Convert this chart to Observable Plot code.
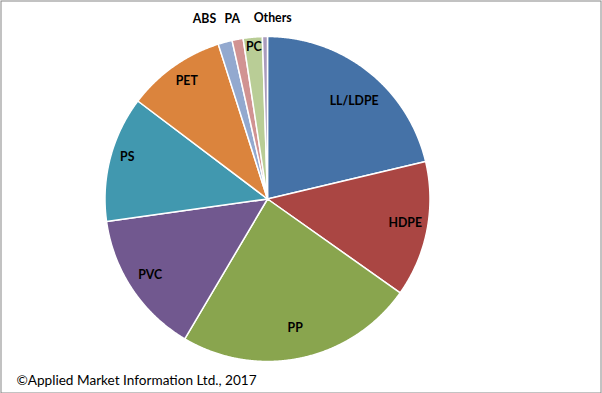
<!DOCTYPE html>
<html><head><meta charset="utf-8">
<script src="https://cdn.jsdelivr.net/npm/d3@7"></script>
<script src="https://cdn.jsdelivr.net/npm/@observablehq/plot@0.6"></script>
<style>html,body{margin:0;padding:0;background:#fff;}</style>
</head><body><div id="chart"></div>
<script>
const categories = ["LL/LDPE","HDPE","PP","PVC","PS","PET","ABS","PA","PC","Others"];
const shares = [21.3,13.5,23.7,14.3,12.5,9.8,1.4,1.1,1.9,0.5];
const colors = ["#4572A7","#AA4643","#89A54E","#71588F","#4198AF","#DB843D","#93A9CF","#D19392","#B9CD96","#A99BBD"];
const caption = "©Applied Market Information Ltd., 2017";

// layout (not data)
const W = 602, H = 393, cx = 267, cy = 198.5, R = 162.5;
const insideR = 0.86;
const labelLayout = {
  "LL/LDPE": {r: 0.86, dx: 0, dy: 12},
  "HDPE": {r: 0.86, dx: 0.5, dy: -3},
  "PP": {r: 0.86, dx: -1.5, dy: -7.5},
  "PVC": {r: 0.86, dx: -1, dy: -1.5},
  "PS": {r: 0.86, dx: -5, dy: -7},
  "PET": {r: 0.86, dx: 0, dy: -4},
  "PC": {r: 0.93, dx: 0, dy: -1},
  "ABS": {r: 1.11, dx: -16, dy: -6},
  "PA": {r: 1.11, dx: -2, dy: -3},
  "Others": {r: 1.11, dx: 8, dy: -1}
};

const rows = categories.map((c, i) => ({category: c, share: shares[i]}));
const arcs = d3.pie().sort(null).value(d => d.share)(rows);

const pts = [];
for (const a of arcs) {
  const n = Math.max(2, Math.ceil((a.endAngle - a.startAngle) / 0.005));
  pts.push({category: a.data.category, x: 0, y: 0});
  for (let k = 0; k <= n; k++) {
    const t = a.startAngle + (a.endAngle - a.startAngle) * k / n;
    pts.push({category: a.data.category, x: Math.sin(t), y: -Math.cos(t)});
  }
  pts.push({category: a.data.category, x: 0, y: 0});
}

const labels = arcs.map(a => {
  const mid = (a.startAngle + a.endAngle) / 2;
  const L = labelLayout[a.data.category] || {r: insideR, dx: 0, dy: 0};
  return {category: a.data.category, x: L.r * Math.sin(mid), y: -L.r * Math.cos(mid), dx: L.dx, dy: L.dy};
});

const chart = Plot.plot({
  width: W, height: H,
  margin: 0,
  style: {fontFamily: "Lato, 'Open Sans', sans-serif", background: "#fff"},
  x: {domain: [-cx / R, (W - cx) / R], axis: null},
  y: {domain: [-cy / R, (H - cy) / R], reverse: true, axis: null},
  color: {domain: categories, range: colors},
  marks: [
    Plot.line(pts, {x: "x", y: "y", z: "category", fill: "category", stroke: "white", strokeWidth: 1.5, strokeLinejoin: "round"}),
    ...labels.map(l => Plot.text([l], {x: "x", y: "y", text: "category", dx: l.dx, dy: l.dy, fontWeight: "bold", fontSize: 12.3, fill: "#000"})),
    Plot.text([caption], {text: d => d, frameAnchor: "bottom-left", textAnchor: "start", lineAnchor: "middle", dx: 16, dy: -13, fontSize: 13.6, fill: "#000"}),
    Plot.frame({stroke: "#868686", strokeWidth: 1, insetTop: 0.5, insetLeft: 0.5, insetBottom: 0.5, insetRight: 1.5})
  ]
});
document.getElementById("chart").appendChild(chart);
</script>
</body></html>
